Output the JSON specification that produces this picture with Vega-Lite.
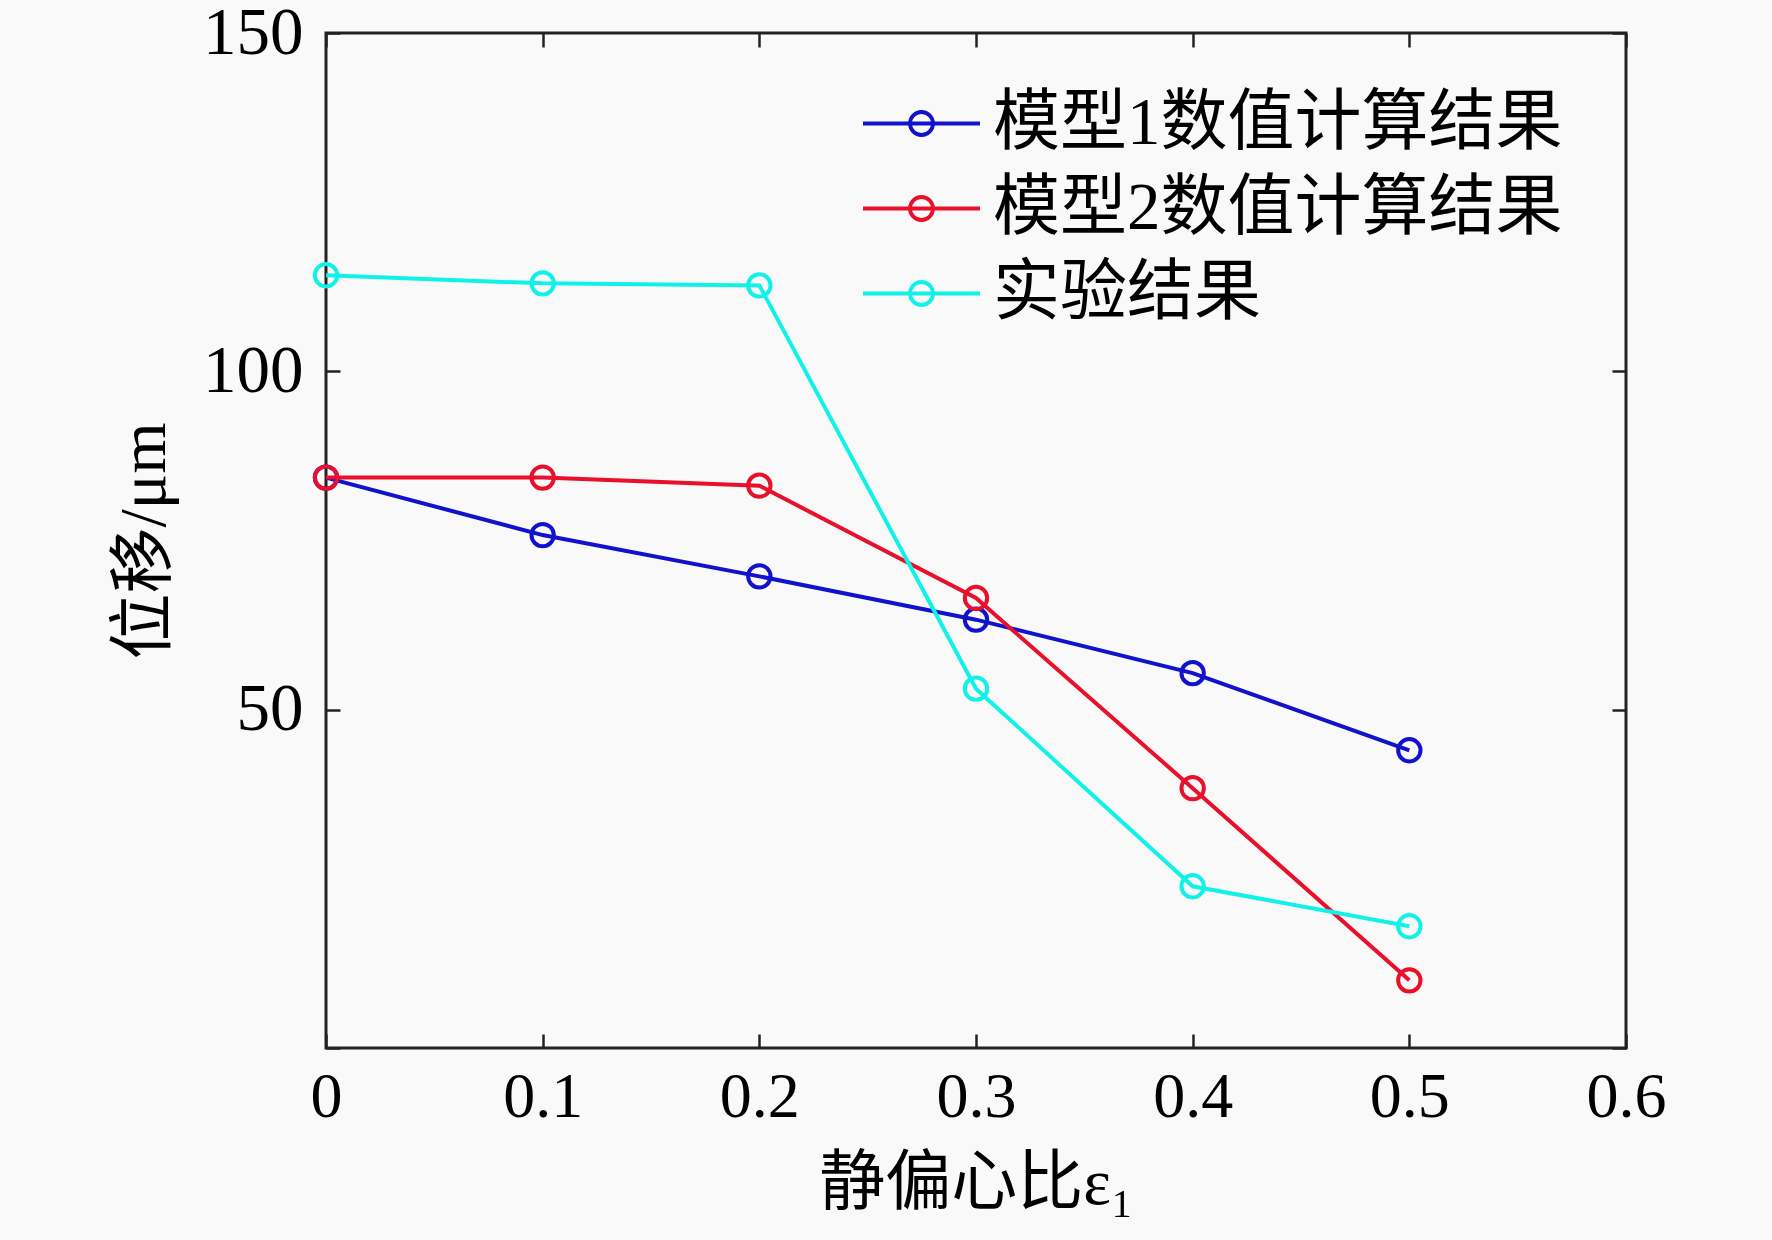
{
  "$schema": "https://vega.github.io/schema/vega-lite/v6.json",
  "width": 1300,
  "height": 1015,
  "autosize": {"type": "none"},
  "padding": {"left": 326, "top": 33, "right": 146, "bottom": 192},
  "background": "#f9f9f9",
  "data": {
    "values": [
      {"e": 0.0, "disp": 84.3, "series": "模型1数值计算结果"},
      {"e": 0.1, "disp": 75.8, "series": "模型1数值计算结果"},
      {"e": 0.2, "disp": 69.7, "series": "模型1数值计算结果"},
      {"e": 0.3, "disp": 63.3, "series": "模型1数值计算结果"},
      {"e": 0.4, "disp": 55.4, "series": "模型1数值计算结果"},
      {"e": 0.5, "disp": 44.0, "series": "模型1数值计算结果"},
      {"e": 0.0, "disp": 84.3, "series": "模型2数值计算结果"},
      {"e": 0.1, "disp": 84.3, "series": "模型2数值计算结果"},
      {"e": 0.2, "disp": 83.1, "series": "模型2数值计算结果"},
      {"e": 0.3, "disp": 66.5, "series": "模型2数值计算结果"},
      {"e": 0.4, "disp": 38.4, "series": "模型2数值计算结果"},
      {"e": 0.5, "disp": 10.0, "series": "模型2数值计算结果"},
      {"e": 0.0, "disp": 114.2, "series": "实验结果"},
      {"e": 0.1, "disp": 113.0, "series": "实验结果"},
      {"e": 0.2, "disp": 112.7, "series": "实验结果"},
      {"e": 0.3, "disp": 53.1, "series": "实验结果"},
      {"e": 0.4, "disp": 23.9, "series": "实验结果"},
      {"e": 0.5, "disp": 18.0, "series": "实验结果"}
    ]
  },
  "layer": [
    {
      "mark": {"type": "line", "strokeWidth": 4},
      "encoding": {
        "x": {
          "field": "e",
          "type": "quantitative",
          "scale": {"domain": [0, 0.6], "nice": false, "zero": false},
          "axis": {
            "orient": "bottom",
            "values": [0, 0.1, 0.2, 0.3, 0.4, 0.5, 0.6],
            "format": ".1~f",
            "labelFlush": false,
            "labelPadding": 31,
            "title": "静偏心比ε₁",
            "titlePadding": 22
          }
        },
        "y": {
          "field": "disp",
          "type": "quantitative",
          "scale": {"domain": [0, 150], "nice": false},
          "axis": {
            "orient": "left",
            "values": [0, 50, 100, 150],
            "labelExpr": "datum.value == 0 ? '' : datum.label",
            "labelFlush": false,
            "labelPadding": 37,
            "labelFontSize": 67,
            "title": "位移/μm",
            "titlePadding": 24
          }
        },
        "color": {
          "field": "series",
          "type": "nominal",
          "scale": {
            "domain": ["模型1数值计算结果", "模型2数值计算结果", "实验结果"],
            "range": ["#1212cc", "#e8102a", "#10f2e8"]
          },
          "legend": {
            "title": null,
            "orient": "none",
            "legendX": 562,
            "legendY": 57,
            "padding": 0,
            "symbolType": "M-4.68,0H4.68M0.92,0A0.92,0.92,0,1,1,-0.92,0A0.92,0.92,0,1,1,0.92,0",
            "symbolSize": 625,
            "symbolStrokeWidth": 3.8,
            "symbolFillColor": "transparent",
            "labelOffset": 38,
            "labelFontSize": 67,
            "labelFont": "Liberation Serif, Noto Sans CJK SC",
            "labelColor": "#000000",
            "labelLimit": 0,
            "rowPadding": 17
          }
        }
      }
    },
    {
      "mark": {"type": "point", "shape": "circle", "filled": false, "size": 500, "strokeWidth": 4, "opacity": 1},
      "encoding": {
        "x": {"field": "e", "type": "quantitative", "axis": null},
        "y": {"field": "disp", "type": "quantitative", "axis": null},
        "color": {"field": "series", "type": "nominal"}
      }
    },
    {
      "mark": {"type": "point", "opacity": 0},
      "encoding": {
        "x": {
          "field": "e",
          "type": "quantitative",
          "axis": {"orient": "top", "values": [0, 0.1, 0.2, 0.3, 0.4, 0.5, 0.6], "labels": false, "title": null}
        },
        "y": {
          "field": "disp",
          "type": "quantitative",
          "axis": {"orient": "right", "values": [0, 50, 100, 150], "labels": false, "title": null}
        }
      }
    }
  ],
  "resolve": {"axis": {"x": "independent", "y": "independent"}},
  "config": {
    "view": {"stroke": "#222222", "strokeWidth": 3},
    "axis": {
      "domain": false,
      "grid": false,
      "ticks": true,
      "tickSize": -14,
      "tickWidth": 2.5,
      "tickColor": "#222222",
      "labelFont": "Liberation Serif, Noto Sans CJK SC",
      "labelFontSize": 64,
      "labelColor": "#000000",
      "titleFont": "Liberation Serif, Noto Sans CJK SC",
      "titleFontSize": 66,
      "titleFontWeight": "normal",
      "titleColor": "#000000"
    }
  }
}
